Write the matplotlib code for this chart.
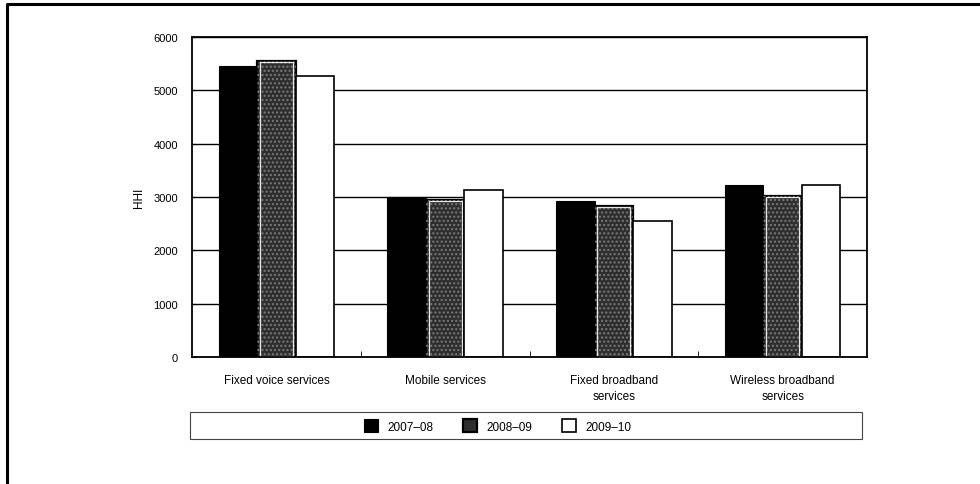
import numpy as np
import matplotlib
matplotlib.use("Agg")
import matplotlib.pyplot as plt
from matplotlib.patches import Rectangle
from matplotlib.lines import Line2D

plt.rcParams['font.family'] = ['Liberation Sans', 'DejaVu Sans']

# dati
categories = ["Fixed voice services", "Mobile services",
              "Fixed broadband\nservices", "Wireless broadband\nservices"]
years = ["2007\u201308", "2008\u201309", "2009\u201310"]
hhi_2007 = [5450, 3000, 2930, 3230]
hhi_2008 = [5550, 2950, 2830, 3020]
hhi_2009 = [5270, 3130, 2550, 3230]
yticks = [0, 1000, 2000, 3000, 4000, 5000, 6000]

fig = plt.figure(figsize=(9.8, 4.85), dpi=100)
ax = fig.add_axes([192/980, 1-358/485, 675/980, 320/485])

x = np.arange(len(categories))
w = 0.228
ax.set_axisbelow(True)
ax.yaxis.grid(True, color='black', linewidth=1.0)

ax.bar(x - w, hhi_2007, w, color='black', edgecolor='black', linewidth=0.8, label=years[0])
ax.bar(x, hhi_2008, w, color='#2e2e2e', edgecolor='black', linewidth=1.6, label=years[1])
# puntinato chiaro sulla barra scura
ax.bar(x, hhi_2008, w, color='none', edgecolor='#7a7a7a', hatch='....', linewidth=0)
# bordino bianco interno sulla barra scura
ax.bar(x, np.array(hhi_2008) - 40, w * 0.86, bottom=20, color='none',
       edgecolor='#e8e8e8', linewidth=0.9)
ax.bar(x + w, hhi_2009, w, color='white', edgecolor='black', linewidth=1.2, label=years[2])

ax.set_xlim(-0.5, len(categories) - 0.5)
ax.set_ylim(0, 6000)
ax.set_yticks(yticks)
ax.set_yticklabels([str(v) for v in yticks], fontsize=8)
ax.set_ylabel("HHI", fontsize=8.5, labelpad=6)

ax.set_xticks(x)
ax.set_xticklabels(categories, fontsize=8.5, linespacing=1.45)
ax.tick_params(axis='x', length=0, pad=12)
ax.set_xticks(x[:-1] + 0.5, minor=True)
ax.tick_params(axis='x', which='minor', direction='in', length=4, color='black')
ax.tick_params(axis='y', direction='in', length=3, pad=10)
for s in ax.spines.values():
    s.set_linewidth(1.3)

# legenda in un riquadro sotto al grafico
fig.patches.append(Rectangle((190/980, 1-440/485), 672/980, 27/485,
                             transform=fig.transFigure, fill=False,
                             edgecolor='#444444', linewidth=0.8))
handles, labels = ax.get_legend_handles_labels()
fig.legend(handles[:3], labels[:3], loc='center', bbox_to_anchor=(498/980, 1-427/485),
           ncol=3, frameon=False, fontsize=8.5, handlelength=1.2, handleheight=1.2,
           columnspacing=2.5, handletextpad=0.8)

# cornice esterna (solo lato sinistro e superiore)
fig.add_artist(Line2D([7/980, 7/980, 1.0], [0.0, 1-5/485, 1-5/485],
                      transform=fig.transFigure, color='black', linewidth=2.2))

plt.savefig("out.png", dpi=100)
plt.close()
